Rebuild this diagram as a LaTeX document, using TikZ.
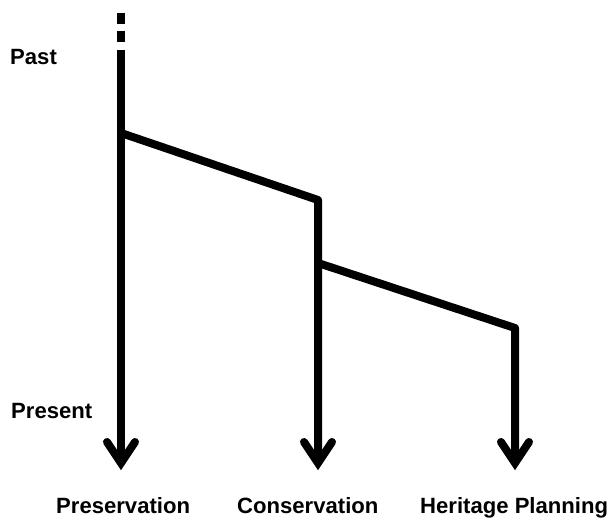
\documentclass[tikz,border=0pt]{standalone}
\usepackage{fontspec}
\setmainfont{Liberation Sans}
\usetikzlibrary{calc}
\begin{document}
\begin{tikzpicture}[x=1pt,y=-1pt,
  tl/.style={line width=8pt, line join=round},
  chev/.style={line width=8pt, line cap=round, line join=miter},
  lbl/.style={anchor=base west, inner sep=0pt, font=\bfseries\fontsize{22.1}{26}\selectfont}]
\useasboundingbox (0,0) rectangle (612,517);
% coordinates
\coordinate (a0) at (121,12.7);
\coordinate (a1) at (121,41.7);
\coordinate (top1) at (121,49.5);
\coordinate (tip1) at (121,463);
\coordinate (b1) at (121,133);
\coordinate (c2) at (318,200);
\coordinate (tip2) at (318,463);
\coordinate (b2) at (318,263);
\coordinate (c3) at (515,328);
\coordinate (tip3) at (515,463);
% dashed top
\draw[line width=8pt, dash pattern=on 11.3pt off 6.7pt] (a0) -- (a1);
% timelines
\draw[tl] (top1) -- (tip1);
\draw[tl] (b1) -- (c2) -- (tip2);
\draw[tl] (b2) -- (c3) -- (tip3);
% arrowheads
\foreach \t in {tip1,tip2,tip3}
  \draw[chev] ($(\t)+(-14,-21)$) -- (\t) -- ($(\t)+(14,-21)$);
% labels
\node[lbl] (past) at (10,64) {Past};
\node[lbl] (present) at (11,418) {Present};
\node[lbl] (pres) at (56,513) {Preservation};
\node[lbl] (cons) at (237,513) {Conservation};
\node[lbl] (herit) at (420,513) {Heritage Planning};
\end{tikzpicture}
\end{document}
